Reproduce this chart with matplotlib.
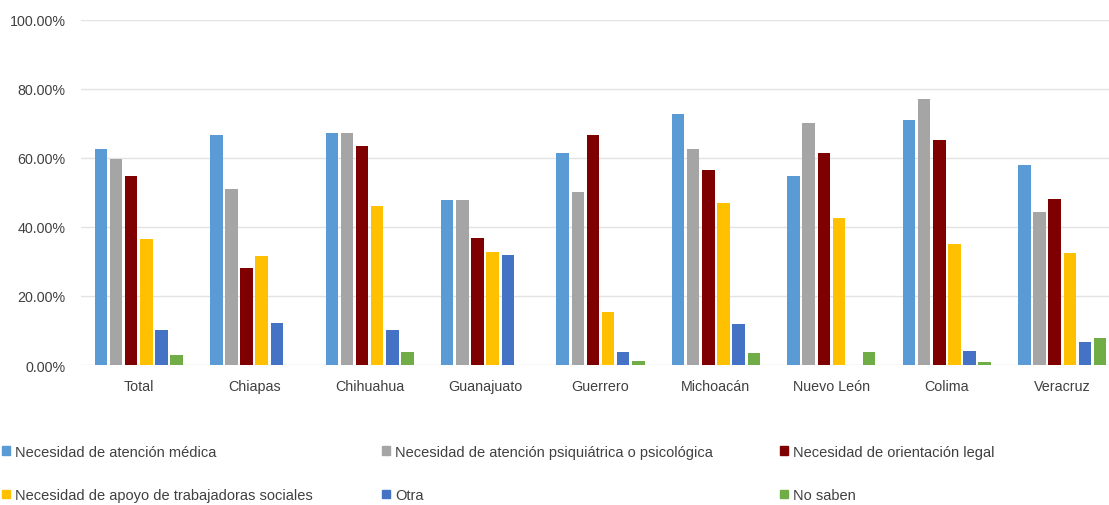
import numpy as np
import matplotlib.pyplot as plt
from matplotlib.patches import Patch

# Data
categories = ["Total", "Chiapas", "Chihuahua", "Guanajuato", "Guerrero",
              "Michoacán", "Nuevo León", "Colima", "Veracruz"]
series_names = ["Necesidad de atención médica",
                "Necesidad de atención psiquiátrica o psicológica",
                "Necesidad de orientación legal",
                "Necesidad de apoyo de trabajadoras sociales",
                "Otra",
                "No saben"]
medica = [62.6, 66.7, 67.1, 47.9, 61.4, 72.7, 54.8, 70.9, 58.0]
psico = [59.7, 50.9, 67.1, 47.9, 50.0, 62.4, 69.9, 77.1, 44.2]
legal = [54.6, 28.0, 63.4, 36.7, 66.7, 56.5, 61.4, 65.0, 48.1]
trabajo = [36.5, 31.5, 45.9, 32.8, 15.3, 47.0, 42.5, 35.1, 32.4]
otra = [10.0, 12.2, 10.1, 31.8, 3.8, 12.0, 0.0, 4.0, 6.8]
no_saben = [2.9, 0.0, 3.7, 0.0, 1.2, 3.4, 3.8, 1.0, 7.7]
values = [medica, psico, legal, trabajo, otra, no_saben]
colors = ["#5B9BD5", "#A5A5A5", "#7F0000", "#FFC000", "#4472C4", "#70AD47"]

plt.rcParams['font.family'] = ['Liberation Sans', 'DejaVu Sans']

fig = plt.figure(figsize=(11.09, 5.06), dpi=100)
ax = fig.add_axes([81 / 1109, 1 - 366 / 506, (1120 - 81) / 1109, (366 - 20.5) / 506])

x = np.arange(len(categories))
step = 0.131
for i, (vals, c) in enumerate(zip(values, colors)):
    ax.bar(x + (i - 2.5) * step, vals, width=0.108, color=c, zorder=3)

ax.set_xlim(-0.5, len(categories) - 0.5)
ax.set_ylim(0, 100)
ax.set_yticks(np.arange(0, 101, 20))
ax.set_yticklabels([f"{v:.2f}%" for v in range(0, 101, 20)])
ax.set_xticks(x)
ax.set_xticklabels(categories)
ax.tick_params(axis='both', length=0, labelsize=10.3, colors="#404040")
ax.tick_params(axis='x', pad=10)
ax.tick_params(axis='y', pad=11)
ax.grid(axis='y', color="#E3E3E3", linewidth=1, zorder=0)
for s in ax.spines.values():
    s.set_visible(False)

# Legend: three columns, two rows
handles = [Patch(color=c) for c in colors]
col_x = [2, 382, 780]
for j in range(3):
    fig.legend([handles[j], handles[j + 3]], [series_names[j], series_names[j + 3]],
               loc='upper left', bbox_to_anchor=(col_x[j] / 1109, 1 - 446 / 506),
               frameon=False, fontsize=10.5, handlelength=0.55, handleheight=0.55,
               handletextpad=0.35, labelspacing=2.0, borderaxespad=0,
               borderpad=0, labelcolor="#404040")

fig.savefig("out.png", dpi=100)
